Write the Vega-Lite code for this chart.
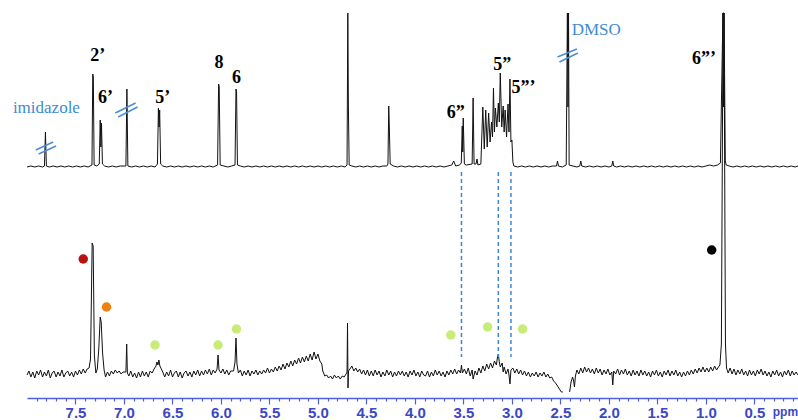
{
"$schema":"https://vega.github.io/schema/vega-lite/v6.json",
"padding":{"left":12,"top":0,"right":0,"bottom":0},
"spacing":0,
"bounds":"flush",
"config":{"view":{"stroke":null}},
"datasets":{
"top":[{"p":8.0,"v":0},{"p":7.96,"v":1},{"p":7.92,"v":0},{"p":7.88,"v":1},{"p":7.84,"v":0},{"p":7.82,"v":1},{"p":7.81,"v":35},{"p":7.80,"v":1},{"p":7.77,"v":0},{"p":7.73,"v":1},{"p":7.69,"v":0},{"p":7.65,"v":1},{"p":7.61,"v":0},{"p":7.57,"v":1},{"p":7.53,"v":0},{"p":7.49,"v":1},{"p":7.45,"v":0},{"p":7.41,"v":1},{"p":7.37,"v":0},{"p":7.33,"v":2},{"p":7.322,"v":93},{"p":7.316,"v":90},{"p":7.308,"v":2},{"p":7.28,"v":1},{"p":7.255,"v":3},{"p":7.245,"v":47},{"p":7.238,"v":20},{"p":7.232,"v":44},{"p":7.222,"v":3},{"p":7.2,"v":1},{"p":7.16,"v":0},{"p":7.12,"v":1},{"p":7.08,"v":0},{"p":7.04,"v":1},{"p":6.98,"v":1},{"p":6.97,"v":78},{"p":6.96,"v":1},{"p":6.92,"v":0},{"p":6.88,"v":1},{"p":6.84,"v":0},{"p":6.8,"v":1},{"p":6.76,"v":0},{"p":6.72,"v":1},{"p":6.68,"v":0},{"p":6.655,"v":3},{"p":6.645,"v":59},{"p":6.638,"v":40},{"p":6.632,"v":57},{"p":6.622,"v":3},{"p":6.6,"v":1},{"p":6.56,"v":0},{"p":6.52,"v":1},{"p":6.48,"v":0},{"p":6.44,"v":1},{"p":6.4,"v":0},{"p":6.36,"v":1},{"p":6.32,"v":0},{"p":6.28,"v":1},{"p":6.24,"v":0},{"p":6.2,"v":1},{"p":6.16,"v":0},{"p":6.12,"v":1},{"p":6.08,"v":0},{"p":6.035,"v":2},{"p":6.024,"v":83},{"p":6.018,"v":80},{"p":6.008,"v":2},{"p":5.97,"v":1},{"p":5.93,"v":0},{"p":5.89,"v":1},{"p":5.855,"v":2},{"p":5.845,"v":78},{"p":5.839,"v":75},{"p":5.83,"v":2},{"p":5.8,"v":1},{"p":5.76,"v":0},{"p":5.72,"v":1},{"p":5.68,"v":0},{"p":5.64,"v":1},{"p":5.6,"v":0},{"p":5.56,"v":1},{"p":5.52,"v":0},{"p":5.48,"v":1},{"p":5.44,"v":0},{"p":5.4,"v":1},{"p":5.36,"v":0},{"p":5.32,"v":1},{"p":5.28,"v":0},{"p":5.24,"v":1},{"p":5.2,"v":0},{"p":5.16,"v":1},{"p":5.12,"v":0},{"p":5.08,"v":1},{"p":5.04,"v":0},{"p":5.0,"v":1},{"p":4.96,"v":0},{"p":4.92,"v":1},{"p":4.88,"v":0},{"p":4.84,"v":1},{"p":4.8,"v":0},{"p":4.76,"v":1},{"p":4.72,"v":0},{"p":4.7,"v":2},{"p":4.692,"v":154},{"p":4.686,"v":60},{"p":4.678,"v":2},{"p":4.65,"v":1},{"p":4.61,"v":0},{"p":4.57,"v":1},{"p":4.53,"v":0},{"p":4.49,"v":1},{"p":4.45,"v":0},{"p":4.41,"v":1},{"p":4.37,"v":0},{"p":4.33,"v":1},{"p":4.29,"v":1},{"p":4.278,"v":3},{"p":4.27,"v":61},{"p":4.264,"v":40},{"p":4.255,"v":3},{"p":4.22,"v":1},{"p":4.18,"v":0},{"p":4.14,"v":1},{"p":4.1,"v":0},{"p":4.06,"v":1},{"p":4.02,"v":0},{"p":3.98,"v":1},{"p":3.94,"v":0},{"p":3.9,"v":1},{"p":3.86,"v":0},{"p":3.82,"v":1},{"p":3.78,"v":0},{"p":3.74,"v":1},{"p":3.7,"v":0},{"p":3.66,"v":1},{"p":3.62,"v":2},{"p":3.6,"v":6},{"p":3.58,"v":1},{"p":3.54,"v":2},{"p":3.522,"v":4},{"p":3.512,"v":41},{"p":3.507,"v":15},{"p":3.502,"v":49},{"p":3.49,"v":3},{"p":3.47,"v":2},{"p":3.41,"v":3},{"p":3.4,"v":69},{"p":3.39,"v":3},{"p":3.37,"v":3},{"p":3.36,"v":8},{"p":3.35,"v":2},{"p":3.32,"v":3},{"p":3.30,"v":60},{"p":3.285,"v":18},{"p":3.27,"v":57},{"p":3.255,"v":20},{"p":3.24,"v":54},{"p":3.225,"v":25},{"p":3.21,"v":45},{"p":3.2,"v":30},{"p":3.19,"v":79},{"p":3.18,"v":35},{"p":3.17,"v":59},{"p":3.155,"v":40},{"p":3.14,"v":64},{"p":3.13,"v":45},{"p":3.12,"v":94},{"p":3.105,"v":40},{"p":3.09,"v":61},{"p":3.08,"v":35},{"p":3.07,"v":57},{"p":3.055,"v":30},{"p":3.04,"v":63},{"p":3.03,"v":35},{"p":3.02,"v":88},{"p":3.01,"v":25},{"p":3.0,"v":27},{"p":2.99,"v":5},{"p":2.98,"v":1},{"p":2.94,"v":0},{"p":2.9,"v":1},{"p":2.86,"v":0},{"p":2.82,"v":1},{"p":2.78,"v":0},{"p":2.74,"v":1},{"p":2.7,"v":0},{"p":2.66,"v":1},{"p":2.62,"v":0},{"p":2.58,"v":1},{"p":2.54,"v":1},{"p":2.53,"v":6},{"p":2.52,"v":1},{"p":2.48,"v":0},{"p":2.44,"v":2},{"p":2.428,"v":154},{"p":2.422,"v":60},{"p":2.416,"v":154},{"p":2.41,"v":2},{"p":2.37,"v":1},{"p":2.33,"v":0},{"p":2.3,"v":1},{"p":2.29,"v":6},{"p":2.28,"v":1},{"p":2.24,"v":0},{"p":2.2,"v":1},{"p":2.16,"v":0},{"p":2.12,"v":1},{"p":2.08,"v":0},{"p":2.04,"v":1},{"p":2.0,"v":0},{"p":1.97,"v":1},{"p":1.96,"v":6},{"p":1.95,"v":1},{"p":1.92,"v":0},{"p":1.88,"v":1},{"p":1.84,"v":0},{"p":1.8,"v":1},{"p":1.76,"v":0},{"p":1.72,"v":1},{"p":1.68,"v":0},{"p":1.64,"v":1},{"p":1.6,"v":0},{"p":1.56,"v":1},{"p":1.52,"v":0},{"p":1.48,"v":1},{"p":1.44,"v":0},{"p":1.4,"v":1},{"p":1.36,"v":0},{"p":1.32,"v":1},{"p":1.28,"v":0},{"p":1.24,"v":1},{"p":1.2,"v":0},{"p":1.16,"v":1},{"p":1.12,"v":0},{"p":1.08,"v":1},{"p":1.04,"v":0},{"p":1.0,"v":1},{"p":0.96,"v":2},{"p":0.92,"v":1},{"p":0.88,"v":2},{"p":0.85,"v":4},{"p":0.824,"v":154},{"p":0.818,"v":60},{"p":0.812,"v":154},{"p":0.8,"v":6},{"p":0.79,"v":2},{"p":0.76,"v":1},{"p":0.72,"v":0},{"p":0.68,"v":1},{"p":0.64,"v":0},{"p":0.6,"v":1},{"p":0.56,"v":0},{"p":0.52,"v":1},{"p":0.48,"v":0},{"p":0.44,"v":1},{"p":0.4,"v":0},{"p":0.36,"v":1},{"p":0.32,"v":0},{"p":0.28,"v":1},{"p":0.24,"v":0},{"p":0.2,"v":1},{"p":0.16,"v":0},{"p":0.12,"v":1},{"p":0.08,"v":0},{"p":0.05,"v":1}],
"bot":[{"p":8.0,"v":-1},{"p":7.98,"v":3},{"p":7.96,"v":-3},{"p":7.94,"v":2},{"p":7.92,"v":-4},{"p":7.9,"v":3},{"p":7.88,"v":-1},{"p":7.86,"v":4},{"p":7.84,"v":-3},{"p":7.82,"v":2},{"p":7.8,"v":-2},{"p":7.78,"v":4},{"p":7.76,"v":-4},{"p":7.74,"v":1},{"p":7.72,"v":3},{"p":7.7,"v":-3},{"p":7.68,"v":2},{"p":7.66,"v":-2},{"p":7.64,"v":4},{"p":7.62,"v":-3},{"p":7.6,"v":1},{"p":7.58,"v":3},{"p":7.56,"v":-2},{"p":7.54,"v":2},{"p":7.52,"v":-3},{"p":7.5,"v":3},{"p":7.48,"v":-1},{"p":7.46,"v":4},{"p":7.44,"v":0},{"p":7.42,"v":5},{"p":7.4,"v":1},{"p":7.38,"v":5},{"p":7.36,"v":6},{"p":7.345,"v":15},{"p":7.328,"v":131},{"p":7.318,"v":128},{"p":7.305,"v":18},{"p":7.29,"v":1},{"p":7.275,"v":5},{"p":7.26,"v":25},{"p":7.245,"v":57},{"p":7.235,"v":52},{"p":7.22,"v":20},{"p":7.205,"v":4},{"p":7.19,"v":-3},{"p":7.17,"v":2},{"p":7.15,"v":-2},{"p":7.13,"v":3},{"p":7.11,"v":0},{"p":7.09,"v":4},{"p":7.07,"v":1},{"p":7.05,"v":3},{"p":7.03,"v":0},{"p":7.01,"v":2},{"p":6.98,"v":2},{"p":6.972,"v":30},{"p":6.965,"v":1},{"p":6.95,"v":-2},{"p":6.93,"v":3},{"p":6.91,"v":-3},{"p":6.89,"v":1},{"p":6.87,"v":-4},{"p":6.85,"v":2},{"p":6.83,"v":-3},{"p":6.81,"v":3},{"p":6.79,"v":-2},{"p":6.77,"v":2},{"p":6.75,"v":-3},{"p":6.73,"v":3},{"p":6.71,"v":1},{"p":6.69,"v":5},{"p":6.67,"v":8},{"p":6.66,"v":12},{"p":6.65,"v":9},{"p":6.64,"v":14},{"p":6.63,"v":8},{"p":6.62,"v":6},{"p":6.6,"v":2},{"p":6.58,"v":-3},{"p":6.56,"v":2},{"p":6.54,"v":-2},{"p":6.52,"v":4},{"p":6.5,"v":-3},{"p":6.48,"v":1},{"p":6.46,"v":3},{"p":6.44,"v":-3},{"p":6.42,"v":2},{"p":6.4,"v":-4},{"p":6.38,"v":1},{"p":6.36,"v":3},{"p":6.34,"v":-2},{"p":6.32,"v":2},{"p":6.3,"v":-3},{"p":6.28,"v":3},{"p":6.26,"v":-1},{"p":6.24,"v":4},{"p":6.22,"v":-2},{"p":6.2,"v":3},{"p":6.18,"v":-1},{"p":6.16,"v":4},{"p":6.14,"v":0},{"p":6.12,"v":5},{"p":6.1,"v":-1},{"p":6.08,"v":4},{"p":6.06,"v":1},{"p":6.04,"v":5},{"p":6.03,"v":19},{"p":6.02,"v":4},{"p":6.0,"v":1},{"p":5.98,"v":5},{"p":5.96,"v":0},{"p":5.94,"v":4},{"p":5.92,"v":-1},{"p":5.9,"v":3},{"p":5.87,"v":3},{"p":5.855,"v":12},{"p":5.845,"v":36},{"p":5.835,"v":10},{"p":5.82,"v":1},{"p":5.8,"v":4},{"p":5.78,"v":-2},{"p":5.76,"v":3},{"p":5.74,"v":-1},{"p":5.72,"v":4},{"p":5.7,"v":-2},{"p":5.68,"v":3},{"p":5.66,"v":0},{"p":5.64,"v":4},{"p":5.62,"v":-1},{"p":5.6,"v":3},{"p":5.58,"v":0},{"p":5.56,"v":4},{"p":5.54,"v":1},{"p":5.52,"v":6},{"p":5.5,"v":1},{"p":5.48,"v":5},{"p":5.46,"v":2},{"p":5.44,"v":7},{"p":5.42,"v":3},{"p":5.4,"v":8},{"p":5.38,"v":4},{"p":5.36,"v":10},{"p":5.34,"v":5},{"p":5.32,"v":11},{"p":5.3,"v":7},{"p":5.28,"v":13},{"p":5.26,"v":8},{"p":5.24,"v":14},{"p":5.22,"v":10},{"p":5.2,"v":16},{"p":5.18,"v":11},{"p":5.16,"v":17},{"p":5.14,"v":12},{"p":5.12,"v":18},{"p":5.1,"v":13},{"p":5.08,"v":20},{"p":5.06,"v":14},{"p":5.04,"v":22},{"p":5.02,"v":15},{"p":5.0,"v":20},{"p":4.98,"v":13},{"p":4.96,"v":10},{"p":4.95,"v":3},{"p":4.93,"v":-2},{"p":4.91,"v":-1},{"p":4.89,"v":-4},{"p":4.87,"v":-2},{"p":4.85,"v":-5},{"p":4.83,"v":-1},{"p":4.81,"v":-4},{"p":4.79,"v":-2},{"p":4.77,"v":-5},{"p":4.75,"v":-2},{"p":4.73,"v":-3},{"p":4.71,"v":0},{"p":4.7,"v":2},{"p":4.695,"v":51},{"p":4.69,"v":-14},{"p":4.685,"v":3},{"p":4.67,"v":5},{"p":4.65,"v":8},{"p":4.63,"v":3},{"p":4.61,"v":6},{"p":4.59,"v":2},{"p":4.57,"v":5},{"p":4.55,"v":0},{"p":4.53,"v":4},{"p":4.51,"v":-1},{"p":4.49,"v":4},{"p":4.47,"v":-2},{"p":4.45,"v":3},{"p":4.43,"v":-2},{"p":4.41,"v":4},{"p":4.39,"v":-1},{"p":4.37,"v":3},{"p":4.35,"v":-3},{"p":4.33,"v":2},{"p":4.31,"v":-2},{"p":4.29,"v":4},{"p":4.27,"v":-1},{"p":4.25,"v":3},{"p":4.23,"v":-3},{"p":4.21,"v":2},{"p":4.19,"v":-2},{"p":4.17,"v":3},{"p":4.15,"v":-1},{"p":4.13,"v":3},{"p":4.11,"v":-2},{"p":4.09,"v":2},{"p":4.07,"v":-3},{"p":4.05,"v":3},{"p":4.03,"v":-1},{"p":4.01,"v":4},{"p":3.99,"v":-2},{"p":3.97,"v":2},{"p":3.95,"v":-3},{"p":3.93,"v":3},{"p":3.91,"v":-1},{"p":3.89,"v":-2},{"p":3.87,"v":3},{"p":3.85,"v":-3},{"p":3.83,"v":2},{"p":3.81,"v":-2},{"p":3.79,"v":4},{"p":3.77,"v":-1},{"p":3.75,"v":3},{"p":3.73,"v":-2},{"p":3.71,"v":2},{"p":3.69,"v":-3},{"p":3.67,"v":3},{"p":3.65,"v":-1},{"p":3.63,"v":4},{"p":3.61,"v":0},{"p":3.59,"v":5},{"p":3.57,"v":0},{"p":3.55,"v":4},{"p":3.53,"v":1},{"p":3.52,"v":9},{"p":3.51,"v":1},{"p":3.49,"v":5},{"p":3.47,"v":0},{"p":3.45,"v":6},{"p":3.43,"v":-2},{"p":3.41,"v":4},{"p":3.4,"v":-5},{"p":3.38,"v":3},{"p":3.36,"v":-1},{"p":3.34,"v":6},{"p":3.32,"v":1},{"p":3.3,"v":8},{"p":3.28,"v":3},{"p":3.26,"v":10},{"p":3.24,"v":5},{"p":3.22,"v":11},{"p":3.2,"v":6},{"p":3.18,"v":13},{"p":3.16,"v":9},{"p":3.15,"v":16},{"p":3.14,"v":20},{"p":3.13,"v":12},{"p":3.12,"v":7},{"p":3.1,"v":11},{"p":3.09,"v":2},{"p":3.08,"v":7},{"p":3.06,"v":0},{"p":3.04,"v":5},{"p":3.03,"v":-1},{"p":3.02,"v":-10},{"p":3.01,"v":4},{"p":2.99,"v":6},{"p":2.97,"v":1},{"p":2.95,"v":5},{"p":2.93,"v":0},{"p":2.91,"v":4},{"p":2.89,"v":-1},{"p":2.87,"v":3},{"p":2.85,"v":-2},{"p":2.83,"v":2},{"p":2.81,"v":-3},{"p":2.79,"v":1},{"p":2.77,"v":-2},{"p":2.75,"v":2},{"p":2.73,"v":-3},{"p":2.71,"v":1},{"p":2.69,"v":-2},{"p":2.67,"v":2},{"p":2.65,"v":-3},{"p":2.63,"v":0},{"p":2.61,"v":-4},{"p":2.59,"v":-3},{"p":2.57,"v":-7},{"p":2.55,"v":-9},{"p":2.53,"v":-12},{"p":2.51,"v":-15},{"p":2.49,"v":-18},{"p":2.475,"v":-18},{"p":2.44,"v":null},{"p":2.405,"v":-18},{"p":2.39,"v":-8},{"p":2.375,"v":-3},{"p":2.365,"v":-6},{"p":2.355,"v":-13},{"p":2.345,"v":-2},{"p":2.33,"v":4},{"p":2.31,"v":0},{"p":2.29,"v":6},{"p":2.27,"v":1},{"p":2.25,"v":7},{"p":2.23,"v":2},{"p":2.21,"v":6},{"p":2.19,"v":1},{"p":2.17,"v":5},{"p":2.15,"v":0},{"p":2.13,"v":6},{"p":2.11,"v":1},{"p":2.09,"v":5},{"p":2.07,"v":-1},{"p":2.05,"v":4},{"p":2.03,"v":0},{"p":2.01,"v":5},{"p":1.99,"v":-1},{"p":1.97,"v":2},{"p":1.96,"v":-11},{"p":1.95,"v":3},{"p":1.93,"v":0},{"p":1.91,"v":5},{"p":1.89,"v":-1},{"p":1.87,"v":4},{"p":1.85,"v":0},{"p":1.83,"v":5},{"p":1.81,"v":-1},{"p":1.79,"v":3},{"p":1.77,"v":-2},{"p":1.75,"v":4},{"p":1.73,"v":-1},{"p":1.71,"v":3},{"p":1.69,"v":-2},{"p":1.67,"v":4},{"p":1.65,"v":-1},{"p":1.63,"v":3},{"p":1.61,"v":-2},{"p":1.59,"v":2},{"p":1.57,"v":-3},{"p":1.55,"v":3},{"p":1.53,"v":-1},{"p":1.51,"v":4},{"p":1.49,"v":-2},{"p":1.47,"v":2},{"p":1.45,"v":-3},{"p":1.43,"v":3},{"p":1.41,"v":-1},{"p":1.39,"v":4},{"p":1.37,"v":-2},{"p":1.35,"v":3},{"p":1.33,"v":-1},{"p":1.31,"v":4},{"p":1.29,"v":-2},{"p":1.27,"v":2},{"p":1.25,"v":-3},{"p":1.23,"v":2},{"p":1.21,"v":-2},{"p":1.19,"v":3},{"p":1.17,"v":-1},{"p":1.15,"v":4},{"p":1.13,"v":0},{"p":1.11,"v":5},{"p":1.09,"v":1},{"p":1.07,"v":6},{"p":1.05,"v":2},{"p":1.03,"v":7},{"p":1.01,"v":2},{"p":0.99,"v":6},{"p":0.97,"v":2},{"p":0.95,"v":7},{"p":0.93,"v":3},{"p":0.91,"v":8},{"p":0.89,"v":4},{"p":0.87,"v":7},{"p":0.855,"v":9},{"p":0.84,"v":30},{"p":0.823,"v":361},{"p":0.813,"v":361},{"p":0.798,"v":30},{"p":0.787,"v":6},{"p":0.77,"v":1},{"p":0.75,"v":6},{"p":0.73,"v":0},{"p":0.71,"v":5},{"p":0.69,"v":-1},{"p":0.67,"v":4},{"p":0.65,"v":0},{"p":0.63,"v":5},{"p":0.61,"v":-1},{"p":0.59,"v":3},{"p":0.57,"v":-2},{"p":0.55,"v":4},{"p":0.53,"v":-1},{"p":0.51,"v":3},{"p":0.49,"v":-2},{"p":0.47,"v":4},{"p":0.45,"v":0},{"p":0.43,"v":5},{"p":0.41,"v":-1},{"p":0.39,"v":3},{"p":0.37,"v":-2},{"p":0.35,"v":2},{"p":0.33,"v":-3},{"p":0.31,"v":3},{"p":0.29,"v":-1},{"p":0.27,"v":4},{"p":0.25,"v":-2},{"p":0.23,"v":2},{"p":0.21,"v":-3},{"p":0.19,"v":3},{"p":0.17,"v":-1},{"p":0.15,"v":4},{"p":0.13,"v":-2},{"p":0.11,"v":3},{"p":0.09,"v":-1},{"p":0.07,"v":2},{"p":0.05,"v":-1}],
"brk":[{"p1":7.91,"v1":17,"p2":7.73,"v2":25},{"p1":7.88,"v1":13,"p2":7.70,"v2":21},{"p1":7.09,"v1":54,"p2":6.88,"v2":64},{"p1":7.06,"v1":50,"p2":6.86,"v2":60},{"p1":2.53,"v1":110,"p2":2.33,"v2":118},{"p1":2.51,"v1":105,"p2":2.32,"v2":114}],
"dash":[{"p":3.52},{"p":3.14},{"p":3.01}],
"lab":[{"p":7.27,"v":111,"t":"2’"},{"p":7.19,"v":69,"t":"6’"},{"p":6.6,"v":69,"t":"5’"},{"p":6.02,"v":104,"t":"8"},{"p":5.84,"v":89,"t":"6"},{"p":3.58,"v":54,"t":"6”"},{"p":3.1,"v":102,"t":"5”"},{"p":2.88,"v":79,"t":"5”’"},{"p":1.02,"v":108,"t":"6”’"}],
"blab":[{"p":7.8,"v":59,"t":"imidazole"},{"p":2.13,"v":137,"t":"DMSO"}],
"dots":[{"p":7.42,"v":115,"k":"a"},{"p":7.18,"v":67,"k":"b"},{"p":6.68,"v":29,"k":"c"},{"p":6.03,"v":29,"k":"c"},{"p":5.84,"v":45,"k":"c"},{"p":3.63,"v":39,"k":"c"},{"p":3.25,"v":47,"k":"c"},{"p":2.89,"v":45,"k":"c"},{"p":0.94,"v":124,"k":"d"}],
"unit":[{"t":"ppm","p":0.31,"v":-38}]
},
"vconcat":[
{"width":771,"height":200,
"encoding":{"x":{"field":"p","type":"quantitative","scale":{"domain":[8.0,0.05],"nice":false,"zero":false},"axis":null}},
"layer":[
{"data":{"name":"top"},"mark":{"type":"line","color":"#111111","strokeWidth":1},
"encoding":{"y":{"field":"v","type":"quantitative","scale":{"domain":[-33,167],"nice":false,"zero":false},"axis":null}}},
{"data":{"name":"brk"},"mark":{"type":"rule","color":"#4a8ed6","strokeWidth":1.5},
"encoding":{"x":{"field":"p1","type":"quantitative"},"x2":{"field":"p2"},"y":{"field":"v1","type":"quantitative"},"y2":{"field":"v2"}}},
{"data":{"name":"dash"},"mark":{"type":"rule","color":"#3f86d0","strokeWidth":1.5,"strokeDash":[4,3]},
"encoding":{"y":{"datum":-5,"type":"quantitative"},"y2":{"datum":-33}}},
{"data":{"name":"lab"},"mark":{"type":"text","font":"Liberation Serif","fontWeight":"bold","fontSize":18,"color":"#000000"},
"encoding":{"y":{"field":"v","type":"quantitative"},"text":{"field":"t"}}},
{"data":{"name":"blab"},"mark":{"type":"text","font":"Liberation Serif","fontSize":17,"color":"#3d8bd4"},
"encoding":{"y":{"field":"v","type":"quantitative"},"text":{"field":"t"}}}
]},
{"width":771,"height":198,
"encoding":{"x":{"field":"p","type":"quantitative","scale":{"domain":[8.0,0.05],"nice":false,"zero":false},
"axis":{"title":null,"grid":false,"values":[7.9,7.8,7.7,7.6,7.5,7.4,7.3,7.2,7.1,7.0,6.9,6.8,6.7,6.6,6.5,6.4,6.3,6.2,6.1,6.0,5.9,5.8,5.7,5.6,5.5,5.4,5.3,5.2,5.1,5.0,4.9,4.8,4.7,4.6,4.5,4.4,4.3,4.2,4.1,4.0,3.9,3.8,3.7,3.6,3.5,3.4,3.3,3.2,3.1,3.0,2.9,2.8,2.7,2.6,2.5,2.4,2.3,2.2,2.1,2.0,1.9,1.8,1.7,1.6,1.5,1.4,1.3,1.2,1.1,1.0,0.9,0.8,0.7,0.6,0.5,0.4,0.3,0.2,0.1],
"labelExpr":"abs(datum.value*2 - round(datum.value*2)) < 0.001 ? format(datum.value, '.1f') : ''",
"labelOverlap":false,"labelFlush":false,
"domainColor":"#5060da","domainWidth":1.5,"tickColor":"#5060da","tickWidth":1.2,
"tickSize":{"condition":{"test":"abs(datum.value*2 - round(datum.value*2)) < 0.001","value":6},"value":3},
"labelColor":"#3a48c8","labelFont":"Liberation Sans","labelFontWeight":"bold","labelFontSize":15,"labelPadding":1}}},
"layer":[
{"data":{"name":"bot"},"mark":{"type":"line","color":"#111111","strokeWidth":1,"invalid":"break-paths-filter-domains"},
"encoding":{"y":{"field":"v","type":"quantitative","scale":{"domain":[-24,174],"nice":false,"zero":false},"axis":null}}},
{"data":{"name":"dash"},"mark":{"type":"rule","color":"#3f86d0","strokeWidth":1.5,"strokeDash":[4,3]},
"encoding":{"y":{"datum":174,"type":"quantitative"},"y2":{"datum":17}}},
{"data":{"name":"dots"},"mark":{"type":"point","filled":true,"opacity":1,"size":90},
"encoding":{"y":{"field":"v","type":"quantitative"},"color":{"field":"k","type":"nominal","scale":{"domain":["a","b","c","d"],"range":["#b5140f","#f08010","#c8ec78","#000000"]},"legend":null}}},
{"data":{"name":"unit"},"mark":{"type":"text","font":"Liberation Sans","fontWeight":"bold","fontSize":12,"color":"#3a48c8","align":"left"},
"encoding":{"y":{"field":"v","type":"quantitative"},"text":{"field":"t"}}}
]}
]
}
